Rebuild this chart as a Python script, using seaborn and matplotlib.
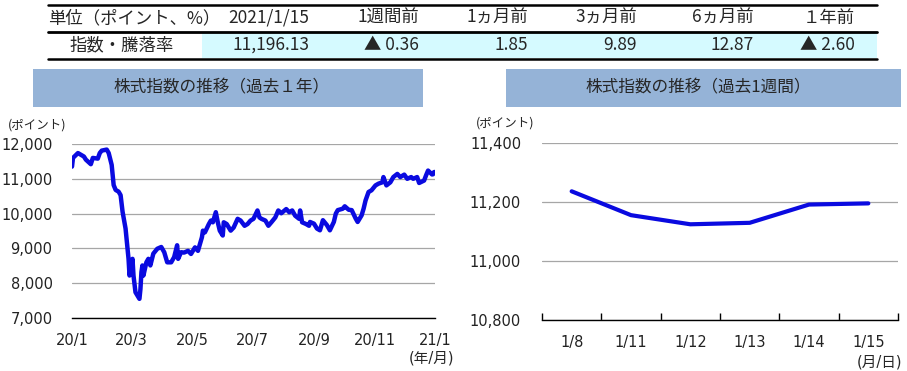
import pandas as pd
import numpy as np
import matplotlib
matplotlib.use("Agg")
import matplotlib.pyplot as plt
from matplotlib.patches import Rectangle
import seaborn as sns

# ---- データ ----
unit_label = "単位（ポイント、%）"
row_label = "指数・騰落率"
table_cols = ["2021/1/15", "1週間前", "1ヵ月前", "3ヵ月前", "6ヵ月前", "１年前"]
table_values = [11196.13, -0.36, 1.85, 9.89, 12.87, -2.60]

year_dates = [
    "2020-01-15", "2020-01-16", "2020-01-21", "2020-01-27", "2020-01-29", "2020-02-03",
    "2020-02-05", "2020-02-10", "2020-02-12", "2020-02-14", "2020-02-19", "2020-02-21",
    "2020-02-24", "2020-02-26", "2020-02-28", "2020-03-02", "2020-03-04", "2020-03-06",
    "2020-03-09", "2020-03-11", "2020-03-12", "2020-03-13", "2020-03-16", "2020-03-17",
    "2020-03-19", "2020-03-23", "2020-03-24", "2020-03-25", "2020-03-26", "2020-03-27",
    "2020-03-30", "2020-04-01", "2020-04-03", "2020-04-06", "2020-04-10", "2020-04-14",
    "2020-04-17", "2020-04-20", "2020-04-24", "2020-04-27", "2020-04-30", "2020-05-01",
    "2020-05-04", "2020-05-07", "2020-05-11", "2020-05-14", "2020-05-18", "2020-05-21",
    "2020-05-25", "2020-05-26", "2020-05-28", "2020-06-01", "2020-06-03", "2020-06-05",
    "2020-06-08", "2020-06-10", "2020-06-12", "2020-06-15", "2020-06-16", "2020-06-19",
    "2020-06-23", "2020-06-26", "2020-06-30", "2020-07-03", "2020-07-07", "2020-07-10",
    "2020-07-13", "2020-07-16", "2020-07-20", "2020-07-22", "2020-07-24", "2020-07-28",
    "2020-07-31", "2020-08-03", "2020-08-07", "2020-08-10", "2020-08-13", "2020-08-18",
    "2020-08-21", "2020-08-24", "2020-08-27", "2020-08-31", "2020-09-01", "2020-09-03",
    "2020-09-07", "2020-09-10", "2020-09-11", "2020-09-15", "2020-09-18", "2020-09-21",
    "2020-09-24", "2020-09-28", "2020-10-01", "2020-10-05", "2020-10-07", "2020-10-09",
    "2020-10-14", "2020-10-16", "2020-10-20", "2020-10-23", "2020-10-27", "2020-10-29",
    "2020-11-02", "2020-11-04", "2020-11-06", "2020-11-09", "2020-11-12", "2020-11-16",
    "2020-11-19", "2020-11-23", "2020-11-24", "2020-11-27", "2020-12-01", "2020-12-04",
    "2020-12-08", "2020-12-11", "2020-12-15", "2020-12-18", "2020-12-22", "2020-12-24",
    "2020-12-28", "2020-12-30", "2021-01-04", "2021-01-06", "2021-01-08", "2021-01-11",
    "2021-01-12", "2021-01-13", "2021-01-14", "2021-01-15",
]
year_values = [
    11350, 11600, 11740, 11640, 11550, 11420,
    11600, 11580, 11740, 11810, 11840, 11740,
    11400, 10820, 10680, 10630, 10530, 10050,
    9570, 8990, 8700, 8220, 8700, 8220,
    7740, 7550, 7830, 8320, 8510, 8220,
    8600, 8700, 8510, 8850, 8990, 9040,
    8890, 8600, 8600, 8750, 9090, 8700,
    8890, 8880, 8930, 8840, 9030, 8930,
    9320, 9510, 9460, 9700, 9800, 9750,
    10040, 9750, 9510, 9370, 9750, 9700,
    9510, 9600, 9850, 9800, 9650, 9700,
    9800, 9850, 10090, 9890, 9850, 9800,
    9650, 9750, 9890, 10090, 10010, 10130,
    10040, 10090, 9940, 9850, 10090, 9750,
    9700, 9650, 9760, 9710, 9570, 9520,
    9810, 9670, 9520, 9760, 10000, 10100,
    10140, 10210, 10110, 10100, 9860, 9760,
    9950, 10140, 10380, 10620, 10670, 10810,
    10860, 10900, 11050, 10810, 10900, 11050,
    11140, 11050, 11120, 11000, 11050, 11000,
    11050, 10880, 10950, 11100, 11237, 11156,
    11125, 11130, 11192, 11196,
]
year_ticks = ["2020-01-15", "2020-03-15", "2020-05-15", "2020-07-15",
              "2020-09-15", "2020-11-15", "2021-01-15"]
year_ticklabels = ["20/1", "20/3", "20/5", "20/7", "20/9", "20/11", "21/1"]

week_days = ["1/8", "1/11", "1/12", "1/13", "1/14", "1/15"]
week_values = [11237, 11156, 11125, 11130, 11192, 11196]

BLUE = "#0A0AE0"
GRID = "#A6A6A6"
TITLE_BG = "#95B3D7"
CYAN = "#D5FAFF"

sns.set_theme(style="white")
plt.rcParams['font.family'] = ['DejaVu Sans', 'Noto Sans CJK JP']
JP = ['Noto Sans CJK JP', 'DejaVu Sans']

fig = plt.figure(figsize=(9.07, 3.71), dpi=100)

# 背景(ピクセル座標): 表とタイトル
bg = fig.add_axes([0, 0, 1, 1])
bg.set_xlim(0, 907)
bg.set_ylim(371, 0)
bg.axis('off')

bg.add_patch(Rectangle((202, 33), 675, 25, color=CYAN, lw=0))
bg.plot([48, 877], [5, 5], color='black', lw=1.8)
bg.plot([48, 877], [31.5, 31.5], color='black', lw=2)
bg.plot([48, 877], [58.5, 58.5], color='black', lw=1.8)

bg.text(48, 18, unit_label, ha='left', va='center', fontsize=12.5, family=JP)
bg.text(122, 45, row_label, ha='center', va='center', fontsize=12.5, family=JP)
col_right = [309, 419, 528, 637, 754, 855]
for xr, c, v in zip(col_right, table_cols, table_values):
    bg.text(xr, 18, c, ha='right', va='center', fontsize=12.5, family=JP)
    s = f"▲ {abs(v):.2f}" if v < 0 else f"{v:,.2f}"
    bg.text(xr, 45, s, ha='right', va='center', fontsize=12.5, family=JP)

bg.add_patch(Rectangle((33, 69), 390, 38, color=TITLE_BG, lw=0))
bg.text(222, 88, "株式指数の推移（過去１年）", ha='center', va='center', fontsize=12, family=JP)
bg.add_patch(Rectangle((506, 69), 395, 38, color=TITLE_BG, lw=0))
bg.text(698, 88, "株式指数の推移（過去1週間）", ha='center', va='center', fontsize=12, family=JP)

bg.text(8, 125, "(ポイント)", ha='left', va='center', fontsize=9, family=JP)
bg.text(476, 123, "(ポイント)", ha='left', va='center', fontsize=9, family=JP)
bg.text(432, 358, "(年/月)", ha='center', va='center', fontsize=10.5)
bg.text(880, 362, "(月/日)", ha='center', va='center', fontsize=10.5)

# 過去1年
ax1 = fig.add_axes([72/907, 1-318/371, (435-72)/907, (318-144)/371])
df_year = pd.DataFrame({"date": pd.to_datetime(year_dates), "value": year_values})
sns.lineplot(data=df_year, x="date", y="value", ax=ax1, color=BLUE, lw=3.2)
ax1.set_xlim(pd.Timestamp("2020-01-15"), pd.Timestamp("2021-01-15"))
ax1.set_ylim(7000, 12000)
ax1.set_yticks(range(7000, 12001, 1000))
ax1.set_yticklabels([f"{v:,}" for v in range(7000, 12001, 1000)])
ax1.set_xticks(pd.to_datetime(year_ticks))
ax1.set_xticklabels(year_ticklabels)

# 過去1週間
ax2 = fig.add_axes([542/907, 1-320/371, (898-542)/907, (320-143.3)/371])
df_week = pd.DataFrame({"day": week_days, "value": week_values})
sns.lineplot(data=df_week, x="day", y="value", ax=ax2, color=BLUE, lw=3, sort=False)
ax2.set_xlim(-0.5, len(week_days) - 0.5)
ax2.set_ylim(10800, 11400)
ax2.set_yticks(range(10800, 11401, 200))
ax2.set_yticklabels([f"{v:,}" for v in range(10800, 11401, 200)])
ax2.set_xticks(np.arange(-0.5, len(week_days), 1), minor=True)

for ax, ypad in [(ax1, 14), (ax2, 15)]:
    ax.set_facecolor('none')
    ax.set_xlabel("")
    ax.set_ylabel("")
    for s in ["left", "top", "right"]:
        ax.spines[s].set_visible(False)
    ax.spines["bottom"].set_color("black")
    ax.spines["bottom"].set_linewidth(1)
    ax.yaxis.grid(True, color=GRID, lw=0.9)
    ax.xaxis.grid(False)
    ax.set_axisbelow(True)
    ax.tick_params(axis='y', length=0, pad=ypad, labelsize=10.5, colors='#222222')
    ax.tick_params(axis='x', labelsize=10.5, colors='#222222', pad=11)

ax1.tick_params(axis='x', which='major', direction='in', length=5, width=1, color='black')
ax2.tick_params(axis='x', which='major', length=0)
ax2.tick_params(axis='x', which='minor', direction='in', length=5, width=1, color='black', bottom=True)

fig.savefig("out.png", dpi=100)
